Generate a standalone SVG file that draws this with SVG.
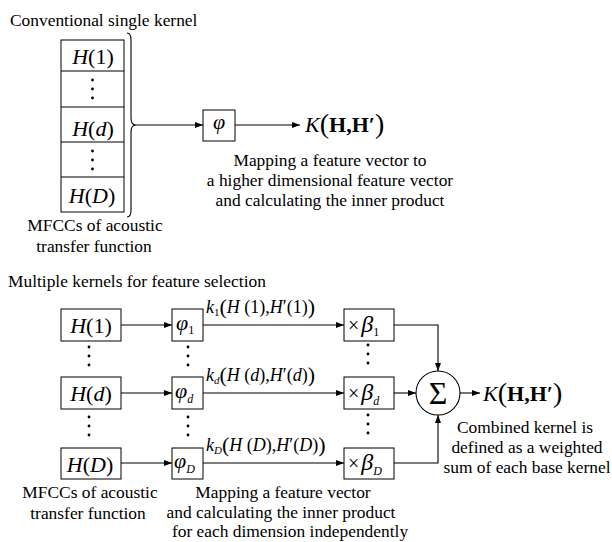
<svg xmlns="http://www.w3.org/2000/svg" width="612" height="542" viewBox="0 0 612 542" font-family="'Liberation Serif','Times New Roman',serif">
<defs>
<marker id="ah" markerWidth="8" markerHeight="6" refX="8" refY="3" orient="auto" markerUnits="userSpaceOnUse"><path d="M0,0 L8,3 L0,6 z" fill="#000"/></marker>
<style>
text{font-family:'Liberation Serif','Times New Roman',serif;fill:#000}
.cap{font-size:17.4px}
.mid{text-anchor:middle}
.m{font-size:22px}
.it{font-style:italic}
.bf{font-weight:bold}
.box{fill:#fff;stroke:#000;stroke-width:1}
.ln{fill:none;stroke:#000;stroke-width:1.1}
.arr{fill:none;stroke:#000;stroke-width:1.1;marker-end:url(#ah)}
.dot{fill:#000}
.lab{font-size:18px}
</style>
</defs>
<rect width="612" height="542" fill="#fff"/>

<!-- Upper part -->
<text class="cap" x="10" y="26">Conventional single kernel</text>

<g id="mfcc-vector">
<rect class="box" x="61" y="40" width="63" height="172"/>
<path class="ln" d="M61,71 H124 M61,107 H124 M61,142 H124 M61,177 H124"/>
<text class="m mid" x="93" y="64"><tspan class="it">H</tspan>(1)</text>
<circle class="dot" cx="92.5" cy="80" r="1.4"/><circle class="dot" cx="92.5" cy="89" r="1.4"/><circle class="dot" cx="92.5" cy="98" r="1.4"/>
<text class="m mid" x="93" y="136"><tspan class="it">H</tspan>(<tspan class="it">d</tspan>)</text>
<circle class="dot" cx="92.5" cy="151" r="1.4"/><circle class="dot" cx="92.5" cy="160" r="1.4"/><circle class="dot" cx="92.5" cy="169" r="1.4"/>
<text class="m mid" x="92" y="203"><tspan class="it">H</tspan>(<tspan class="it">D</tspan>)</text>
<path class="ln" d="M127,33 Q131,33 131,40 L131,118 Q131,125 136,125 Q131,125 131,132 L131,210 Q131,217 127,217"/>
</g>
<text class="cap mid" x="95" y="231">MFCCs of acoustic</text>
<text class="cap mid" x="94" y="252">transfer function</text>

<g id="phi">
<rect class="box" x="203" y="110" width="32" height="31"/>
<text class="m mid it" x="219" y="129">φ</text>
</g>

<g id="kernel-out">
<text class="m" x="305" y="132"><tspan class="it">K</tspan><tspan font-size="28" dy="1">(</tspan><tspan class="bf" dy="-1">H,H′</tspan><tspan font-size="28" dy="1">)</tspan></text>
</g>
<text class="cap mid" x="330" y="166">Mapping a feature vector to</text>
<text class="cap mid" x="330" y="186">a higher dimensional feature vector</text>
<text class="cap mid" x="330" y="206">and calculating the inner product</text>

<!-- Lower part -->
<text class="cap" x="8" y="287">Multiple kernels for feature selection</text>

<g id="h1">
<rect class="box" x="61" y="309" width="60" height="32"/>
<text class="m mid" x="91" y="333"><tspan class="it">H</tspan>(1)</text>
</g>
<g id="hd">
<rect class="box" x="61" y="377" width="60" height="32"/>
<text class="m mid" x="91" y="401"><tspan class="it">H</tspan>(<tspan class="it">d</tspan>)</text>
</g>
<g id="hD">
<rect class="box" x="61" y="448" width="60" height="31"/>
<text class="m mid" x="90" y="472"><tspan class="it">H</tspan>(<tspan class="it">D</tspan>)</text>
</g>
<g id="h-dots">
<circle class="dot" cx="89" cy="347" r="1.4"/><circle class="dot" cx="89" cy="356" r="1.4"/><circle class="dot" cx="89" cy="365" r="1.4"/>
<circle class="dot" cx="89" cy="417" r="1.4"/><circle class="dot" cx="89" cy="426" r="1.4"/><circle class="dot" cx="89" cy="435" r="1.4"/>
</g>

<g id="phi1">
<rect class="box" x="172" y="309" width="31" height="32"/>
<text class="m it" x="176" y="330">φ<tspan font-size="12" font-style="normal" dy="4">1</tspan></text>
</g>
<g id="phid">
<rect class="box" x="172" y="377" width="31" height="32"/>
<text class="m it" x="175" y="398">φ<tspan font-size="12" dy="5">d</tspan></text>
</g>
<g id="phiD">
<rect class="box" x="172" y="448" width="31" height="31"/>
<text class="m it" x="174" y="468">φ<tspan font-size="12" dy="5">D</tspan></text>
</g>
<g id="phi-dots">
<circle class="dot" cx="188" cy="347" r="1.4"/><circle class="dot" cx="188" cy="356" r="1.4"/><circle class="dot" cx="188" cy="365" r="1.4"/>
<circle class="dot" cx="188" cy="417" r="1.4"/><circle class="dot" cx="188" cy="426" r="1.4"/><circle class="dot" cx="188" cy="435" r="1.4"/>
</g>

<g id="b1">
<rect class="box" x="344" y="309" width="50" height="32"/>
<text x="348" y="332"><tspan font-size="20">×</tspan><tspan class="it" font-size="24" dx="2">β</tspan><tspan font-size="12" dy="4">1</tspan></text>
</g>
<g id="bd">
<rect class="box" x="344" y="377" width="50" height="32"/>
<text x="348" y="400"><tspan font-size="20">×</tspan><tspan class="it" font-size="24" dx="2">β</tspan><tspan class="it" font-size="12" dy="5">d</tspan></text>
</g>
<g id="bD">
<rect class="box" x="344" y="448" width="50" height="31"/>
<text x="348" y="470"><tspan font-size="20">×</tspan><tspan class="it" font-size="24" dx="2">β</tspan><tspan class="it" font-size="12" dy="5">D</tspan></text>
</g>
<g id="b-dots">
<circle class="dot" cx="368" cy="345" r="1.4"/><circle class="dot" cx="368" cy="354" r="1.4"/><circle class="dot" cx="368" cy="363" r="1.4"/>
<circle class="dot" cx="368" cy="415" r="1.4"/><circle class="dot" cx="368" cy="424" r="1.4"/><circle class="dot" cx="368" cy="433" r="1.4"/>
</g>

<g id="sum">
<circle cx="438" cy="393" r="22" fill="#fff" stroke="#000" stroke-width="1.1"/>
<text class="mid" x="438" y="404" font-size="32">Σ</text>
</g>

<g id="combined-out">
<text class="m" x="483" y="401"><tspan class="it">K</tspan><tspan font-size="28" dy="1">(</tspan><tspan class="bf" dy="-1">H,H′</tspan><tspan font-size="28" dy="1">)</tspan></text>
</g>

<g id="connectors">
<path class="arr" d="M136,125 H203"/>
<path class="arr" d="M235,125 H300"/>
<path class="arr" d="M121,325 H172"/>
<path class="arr" d="M121,393 H172"/>
<path class="arr" d="M121,463 H172"/>
<path class="arr" d="M203,325 H344"/>
<path class="arr" d="M203,393 H344"/>
<path class="arr" d="M203,463 H344"/>
<path class="arr" d="M394,325 H438 V371"/>
<path class="arr" d="M394,393 H416"/>
<path class="arr" d="M394,463 H438 V415"/>
<path class="arr" d="M460,393 H480"/>
</g>

<g id="edge-labels">
<text class="lab" x="206" y="313"><tspan class="it">k</tspan><tspan font-size="11" dy="3">1</tspan><tspan font-size="22" dy="-2">(</tspan><tspan class="it" dy="-1">H</tspan> (1),<tspan class="it">H</tspan>′(1)<tspan font-size="22" dy="1">)</tspan></text>
<text class="lab" x="206" y="381"><tspan class="it">k</tspan><tspan class="it" font-size="11" dy="3">d</tspan><tspan font-size="22" dy="-2">(</tspan><tspan class="it" dy="-1">H</tspan> (<tspan class="it">d</tspan>),<tspan class="it">H</tspan>′(<tspan class="it">d</tspan>)<tspan font-size="22" dy="1">)</tspan></text>
<text class="lab" x="206" y="451"><tspan class="it">k</tspan><tspan class="it" font-size="11" dy="3">D</tspan><tspan font-size="22" dy="-2">(</tspan><tspan class="it" dy="-1">H</tspan> (<tspan class="it">D</tspan>),<tspan class="it">H</tspan>′(<tspan class="it">D</tspan>)<tspan font-size="22" dy="1">)</tspan></text>
</g>

<text class="cap mid" x="525" y="433">Combined kernel is</text>
<text class="cap mid" x="527" y="453">defined as a weighted</text>
<text class="cap mid" x="527" y="473">sum of each base kernel</text>

<text class="cap mid" x="90" y="498">MFCCs of acoustic</text>
<text class="cap mid" x="88" y="519">transfer function</text>
<text class="cap mid" x="283" y="498">Mapping a feature vector</text>
<text class="cap mid" x="281" y="518">and calculating the inner product</text>
<text class="cap mid" x="290" y="537">for each dimension independently</text>
</svg>
